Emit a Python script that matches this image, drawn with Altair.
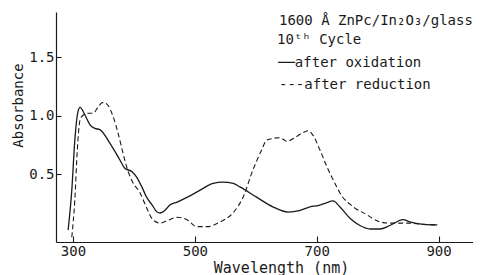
import altair as alt
import pandas as pd

# ---- data ----
ox_nm = [292, 298, 303, 308, 311.5, 320, 328, 336, 344, 361, 377, 385, 397, 405, 413,
         421, 430, 438, 443, 451, 459, 471, 487, 508, 530, 546, 563, 574, 602, 628,
         653, 673, 689, 702, 714, 727, 738, 755, 771, 788, 804, 820, 842, 853, 875, 898]
ox_abs = [0.02, 0.36, 0.79, 1.03, 1.07, 1.00, 0.92, 0.89, 0.88, 0.76, 0.62, 0.55, 0.52, 0.47, 0.39,
          0.30, 0.235, 0.175, 0.167, 0.19, 0.235, 0.26, 0.30, 0.36, 0.42, 0.43, 0.42, 0.39, 0.30, 0.22,
          0.175, 0.19, 0.22, 0.23, 0.25, 0.27, 0.22, 0.12, 0.06, 0.03, 0.03, 0.06, 0.11, 0.09, 0.07, 0.065]

red_nm = [298, 303, 307, 311.5, 316, 325, 333, 341, 348, 352, 357, 366, 374, 382, 390,
          398, 410, 421, 431, 443, 454, 471, 487, 503, 520, 541, 563, 579, 595, 610,
          618, 640, 651, 664, 676, 686, 694, 705, 717, 733, 738, 760, 783, 799, 820,
          848, 875, 899]
red_abs = [-0.04, 0.28, 0.70, 0.96, 1.00, 1.02, 1.02, 1.07, 1.11, 1.11, 1.09, 0.99, 0.85, 0.68, 0.53,
           0.43, 0.34, 0.21, 0.11, 0.08, 0.10, 0.13, 0.11, 0.05, 0.05, 0.09, 0.17, 0.30, 0.53, 0.71,
           0.79, 0.81, 0.78, 0.81, 0.85, 0.87, 0.83, 0.71, 0.56, 0.39, 0.34, 0.22, 0.15, 0.10, 0.08,
           0.08, 0.07, 0.065]

x_ticks = [300, 500, 700, 900]
y_ticks = [0.5, 1.0, 1.5]
x_title = "Wavelength (nm)"
y_title = "Absorbance"
notes = ["1600 Å ZnPc/In₂O₃/glass", "10ᵗʰ Cycle", "──after oxidation", "---after reduction"]

ox_df = pd.DataFrame({"nm": ox_nm, "A": ox_abs})
red_df = pd.DataFrame({"nm": red_nm, "A": red_abs})

W, H = 417, 230
FONT = "DejaVu Sans Mono"
INK = "#1a1a1a"

xs = alt.Scale(domain=[272.1, 956.6], nice=False, zero=False)
ys = alt.Scale(domain=[-0.081, 1.885], nice=False, zero=False)

x_main = alt.X("nm:Q", scale=xs, axis=alt.Axis(
    values=x_ticks, tickSize=0, labelPadding=2, labelFont=FONT, labelFontSize=14,
    labelColor=INK, title=x_title, titleFont=FONT, titleFontSize=15, titleFontWeight="normal",
    titleColor=INK, titleX=225, titleY=33, titleBaseline="bottom", titleAlign="center",
    grid=False))
y_main = alt.Y("A:Q", scale=ys, axis=alt.Axis(
    values=y_ticks, format=".1f", tickSize=0, labelPadding=2, labelFont=FONT, labelFontSize=14,
    labelColor=INK, title=y_title, titleFont=FONT, titleFontSize=14, titleFontWeight="normal",
    titleColor=INK, titleX=-38, titleY=93, titleAngle=270, titleAlign="center",
    titleBaseline="middle", grid=False))

solid = alt.Chart(ox_df).mark_line(interpolate="monotone", color=INK, strokeWidth=1.3).encode(
    x=x_main, y=y_main)
dashed = alt.Chart(red_df).mark_line(interpolate="monotone", color=INK, strokeWidth=1.1,
                                     strokeDash=[5, 3]).encode(
    x=alt.X("nm:Q", scale=xs, axis=None),
    y=alt.Y("A:Q", scale=ys, axis=None))

# inward-pointing ticks
ticks = alt.Chart(ox_df).mark_line(opacity=0).encode(
    x=alt.X("nm:Q", scale=xs, axis=alt.Axis(
        orient="top", offset=-H, values=x_ticks, labels=False, domain=False,
        tickSize=6, tickColor=INK, tickWidth=1.1, title=None, grid=False)),
    y=alt.Y("A:Q", scale=ys, axis=alt.Axis(
        orient="right", offset=-W, values=y_ticks, labels=False, domain=False,
        tickSize=5, tickColor=INK, tickWidth=1.1, title=None, grid=False)),
)

def note(i, x, y):
    return alt.Chart(alt.Data(values=[{"t": notes[i]}])).mark_text(
        font=FONT, fontSize=14, align="left", baseline="middle", color=INK
    ).encode(text="t:N", x=alt.value(x), y=alt.value(y))

texts = [note(0, 223, 9), note(1, 221, 28), note(2, 222, 51), note(3, 223, 73)]

chart = alt.layer(solid, dashed, ticks, *texts).resolve_axis(
    x="independent", y="independent"
).properties(
    width=W, height=H,
    autosize=alt.AutoSizeParams(type="none"),
    padding={"left": 48, "top": 4, "right": 0, "bottom": 35},
).configure_view(stroke=None).configure_axis(
    domainColor=INK, domainWidth=1.2
)

chart.save("out.html", embed_options={"renderer": "svg", "actions": False})
